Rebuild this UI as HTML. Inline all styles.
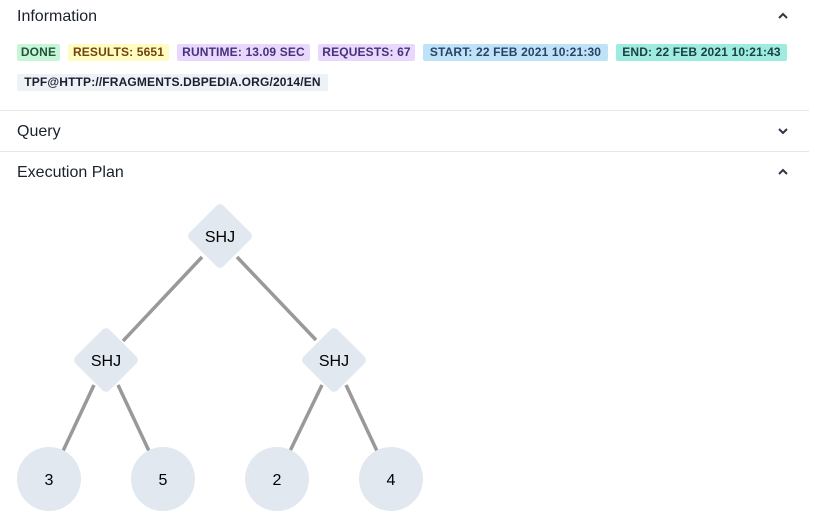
<!DOCTYPE html>
<html><head><style>
body{margin:0;width:815px;height:529px;background:#fff;font-family:"Liberation Sans",sans-serif;position:relative;overflow:hidden;color:#1a202c}
.h{position:absolute;left:17px;font-size:16px;color:#1a202c}
.chev{position:absolute;left:776px;width:14px;height:10px}
.b{position:absolute;height:17px;line-height:17px;font-size:12px;font-weight:bold;padding:0;text-align:center;border-radius:2px;box-sizing:border-box;white-space:nowrap;letter-spacing:0.15px}
.hr{position:absolute;left:0;width:809px;height:1px;background:#e2e8f0}
</style></head><body>
<div class="h" style="top:8px">Information</div>
<svg class="chev" style="top:11px" viewBox="0 0 14 10"><path d="M3 7 L7 3 L11 7" fill="none" stroke="#2d3748" stroke-width="2"/></svg>
<div class="b" style="left:17px;top:44px;width:43px;background:#c6f6d5;color:#22543d">DONE</div>
<div class="b" style="left:68px;top:44px;width:101px;background:#fefcbf;color:#744210">RESULTS: 5651</div>
<div class="b" style="left:177px;top:44px;width:133px;background:#e9d8fd;color:#44337a">RUNTIME: 13.09 SEC</div>
<div class="b" style="left:318px;top:44px;width:97px;background:#e9d8fd;color:#44337a">REQUESTS: 67</div>
<div class="b" style="left:423px;top:44px;width:185px;background:#bee3f8;color:#2a4365">START: 22 FEB 2021 10:21:30</div>
<div class="b" style="left:616px;top:44px;width:171px;background:#9decdf;color:#1d4044">END: 22 FEB 2021 10:21:43</div>
<div class="b" style="left:17px;top:74px;width:311px;background:#edf2f7;color:#1a202c">TPF@HTTP://FRAGMENTS.DBPEDIA.ORG/2014/EN</div>
<div class="hr" style="top:110px"></div>
<div class="h" style="top:123px">Query</div>
<svg class="chev" style="top:126px" viewBox="0 0 14 10"><path d="M3 3 L7 7 L11 3" fill="none" stroke="#2d3748" stroke-width="2"/></svg>
<div class="hr" style="top:151px"></div>
<div class="h" style="top:164px">Execution Plan</div>
<svg class="chev" style="top:167px" viewBox="0 0 14 10"><path d="M3 7 L7 3 L11 7" fill="none" stroke="#2d3748" stroke-width="2"/></svg>
<svg style="position:absolute;left:0;top:0" width="815" height="529">
<g stroke="#999" stroke-width="3.5">
<line x1="202" y1="257" x2="123" y2="341"/>
<line x1="237" y1="257" x2="316" y2="340"/>
<line x1="94" y1="385" x2="63" y2="451"/>
<line x1="118" y1="385" x2="149" y2="451"/>
<line x1="322" y1="385" x2="290" y2="451"/>
<line x1="346" y1="385" x2="377" y2="451"/>
</g>
<g fill="#e2e8f0">
<rect x="-24" y="-24" width="48" height="48" rx="5" transform="translate(220,236) rotate(45)"/>
<rect x="-24" y="-24" width="48" height="48" rx="5" transform="translate(106,360) rotate(45)"/>
<rect x="-24" y="-24" width="48" height="48" rx="5" transform="translate(334,360) rotate(45)"/>
<circle cx="49" cy="479" r="32"/><circle cx="163" cy="479" r="32"/>
<circle cx="277" cy="479" r="32"/><circle cx="391" cy="479" r="32"/>
</g>
<g font-family="Liberation Sans, sans-serif" font-size="16" fill="#000" text-anchor="middle">
<text x="220" y="242">SHJ</text><text x="106" y="366">SHJ</text><text x="334" y="366">SHJ</text>
<text x="49" y="485">3</text><text x="163" y="485">5</text><text x="277" y="485">2</text><text x="391" y="485">4</text>
</g>
</svg>
</body></html>
